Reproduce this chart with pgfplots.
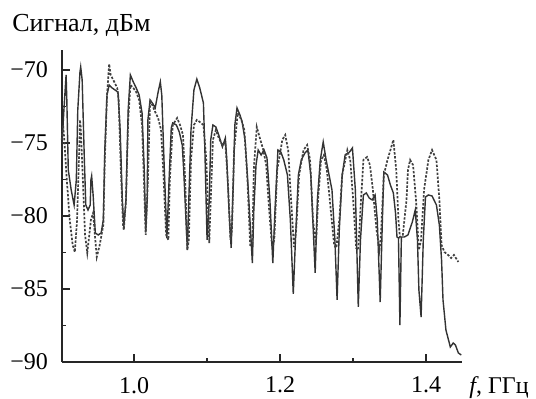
\documentclass[border=0pt]{standalone}
\usepackage{fontspec}
\setmainfont{Liberation Serif}
\usepackage{pgfplots}
\pgfplotsset{compat=1.18}
\begin{document}
\begin{tikzpicture}
\path[use as bounding box] (0,0) rectangle (268pt,199.5pt);
\begin{axis}[
  at={(31pt,18.5pt)}, anchor=south west,
  width=200pt, height=156pt, scale only axis,
  xmin=0.9014, xmax=1.449, ymin=-90, ymax=-68.63,
  axis x line*=bottom, axis y line*=left,
  axis line style={line width=0.9pt, black!85},
  tick align=inside,
  major tick length=3.8pt, minor tick length=2.2pt,
  tick style={line width=0.8pt, black!85},
  xtick={1.0,1.2,1.4}, xticklabels={1.0,1.2,1.4},
  minor xtick={1.1,1.3},
  ytick={-90,-85,-80,-75,-70},
  yticklabels={−90,−85,−80,−75,−70},
  minor ytick={-87.5,-82.5,-77.5,-72.5},
  ticklabel style={font=\fontsize{12}{14}\selectfont},
  xticklabel style={yshift=-4pt},
  yticklabel style={xshift=-3.5pt},
  clip=false,
]
% solid curve
\addplot[line width=0.7pt, black!80] coordinates {
(0.901,-75.48) (0.904,-72.74) (0.907,-70.34) (0.908,-72.05) (0.910,-76.85) (0.914,-78.22) (0.918,-79.25) (0.921,-77.53) (0.923,-72.74) (0.926,-70.14) (0.927,-69.79) (0.929,-70.68) (0.932,-76.16) (0.934,-79.25) (0.937,-79.59) (0.940,-79.25) (0.941,-77.53) (0.942,-77.26) (0.944,-78.56) (0.947,-81.16) (0.951,-81.30) (0.955,-81.16) (0.958,-80.27) (0.960,-75.48) (0.963,-71.71) (0.966,-71.03) (0.970,-71.23) (0.974,-71.37) (0.978,-71.51) (0.981,-74.11) (0.984,-78.90) (0.986,-80.75) (0.989,-78.90) (0.992,-72.74) (0.995,-70.34) (0.999,-70.82) (1.003,-71.23) (1.007,-71.71) (1.011,-72.95) (1.014,-76.85) (1.016,-81.10) (1.018,-78.90) (1.019,-73.42) (1.022,-72.05) (1.026,-72.33) (1.029,-72.60) (1.033,-71.51) (1.036,-70.82) (1.038,-71.71) (1.041,-76.16) (1.045,-81.51) (1.048,-77.53) (1.051,-73.97) (1.053,-73.63) (1.058,-73.77) (1.062,-74.25) (1.066,-75.14) (1.068,-76.85) (1.073,-82.33) (1.075,-78.90) (1.078,-74.11) (1.082,-71.37) (1.086,-70.62) (1.090,-71.23) (1.095,-72.26) (1.097,-75.48) (1.100,-81.64) (1.103,-78.90) (1.105,-74.79) (1.108,-73.77) (1.112,-73.90) (1.116,-74.45) (1.121,-75.27) (1.125,-74.66) (1.127,-76.16) (1.130,-79.59) (1.133,-82.19) (1.136,-77.53) (1.138,-73.77) (1.141,-72.60) (1.145,-73.08) (1.148,-73.56) (1.152,-74.79) (1.156,-77.88) (1.162,-83.22) (1.164,-79.59) (1.167,-76.51) (1.170,-75.48) (1.174,-75.82) (1.178,-75.48) (1.182,-76.03) (1.186,-78.90) (1.190,-83.22) (1.193,-79.59) (1.197,-75.48) (1.201,-75.62) (1.205,-76.16) (1.210,-77.19) (1.214,-80.27) (1.218,-85.34) (1.221,-81.64) (1.225,-77.19) (1.229,-76.16) (1.234,-75.68) (1.238,-75.48) (1.242,-77.19) (1.248,-83.90) (1.251,-78.90) (1.255,-76.16) (1.259,-74.93) (1.263,-76.16) (1.267,-77.19) (1.271,-78.22) (1.275,-81.64) (1.278,-85.75) (1.281,-80.96) (1.285,-77.19) (1.289,-75.82) (1.295,-75.62) (1.299,-75.34) (1.303,-78.22) (1.307,-86.23) (1.310,-81.64) (1.314,-78.56) (1.318,-78.42) (1.322,-78.77) (1.326,-78.90) (1.330,-78.56) (1.333,-80.27) (1.337,-85.89) (1.340,-80.27) (1.342,-76.99) (1.347,-77.19) (1.351,-77.88) (1.355,-78.42) (1.358,-79.80) (1.360,-81.44) (1.362,-81.50) (1.364,-87.47) (1.366,-81.44) (1.370,-81.44) (1.375,-81.30) (1.381,-80.41) (1.385,-79.59) (1.388,-81.64) (1.390,-85.07) (1.393,-86.92) (1.396,-81.64) (1.399,-78.70) (1.403,-78.56) (1.408,-78.63) (1.414,-79.25) (1.418,-80.62) (1.421,-83.01) (1.423,-85.75) (1.427,-87.81) (1.433,-88.97) (1.437,-88.70) (1.440,-88.84) (1.444,-89.38) (1.448,-89.52)
};
% dashed curve
\addplot[line width=0.85pt, black!75, dash pattern=on 1.2pt off 0.8pt] coordinates {
(0.901,-74.79) (0.903,-73.77) (0.905,-75.14) (0.908,-77.53) (0.912,-80.27) (0.916,-81.99) (0.919,-82.47) (0.922,-80.27) (0.925,-75.48) (0.926,-73.42) (0.927,-73.90) (0.930,-77.53) (0.933,-81.30) (0.936,-82.53) (0.938,-81.64) (0.941,-80.27) (0.944,-79.79) (0.947,-81.64) (0.949,-82.81) (0.953,-81.99) (0.958,-80.62) (0.960,-76.16) (0.963,-71.71) (0.966,-69.59) (0.968,-70.34) (0.973,-70.82) (0.977,-71.23) (0.979,-72.05) (0.982,-76.85) (0.985,-80.62) (0.986,-80.96) (0.989,-78.90) (0.992,-73.42) (0.995,-71.03) (0.999,-71.23) (1.003,-71.51) (1.007,-72.05) (1.011,-73.77) (1.014,-78.22) (1.016,-81.30) (1.019,-77.53) (1.022,-72.05) (1.025,-72.40) (1.029,-72.88) (1.033,-73.29) (1.037,-74.11) (1.040,-76.85) (1.044,-81.30) (1.047,-81.64) (1.049,-77.53) (1.053,-73.77) (1.059,-73.29) (1.063,-73.77) (1.067,-74.45) (1.070,-77.53) (1.073,-82.33) (1.075,-81.64) (1.078,-76.16) (1.082,-73.77) (1.086,-73.42) (1.090,-73.56) (1.095,-73.77) (1.099,-76.16) (1.103,-81.85) (1.105,-78.90) (1.108,-74.79) (1.112,-74.11) (1.116,-74.66) (1.121,-75.14) (1.125,-74.93) (1.129,-78.22) (1.132,-81.64) (1.134,-80.96) (1.137,-75.48) (1.142,-72.95) (1.147,-73.42) (1.151,-74.11) (1.155,-77.19) (1.159,-81.99) (1.162,-81.99) (1.164,-76.85) (1.168,-73.90) (1.173,-74.79) (1.177,-75.48) (1.181,-76.51) (1.185,-79.59) (1.189,-82.12) (1.192,-81.64) (1.196,-76.85) (1.203,-74.79) (1.207,-74.45) (1.211,-75.48) (1.215,-78.90) (1.219,-82.12) (1.222,-80.96) (1.226,-77.19) (1.232,-75.48) (1.237,-75.14) (1.241,-76.16) (1.245,-80.27) (1.249,-81.99) (1.252,-78.90) (1.256,-76.16) (1.260,-75.82) (1.264,-76.85) (1.268,-78.90) (1.274,-81.99) (1.277,-82.19) (1.281,-80.27) (1.285,-77.19) (1.292,-75.48) (1.296,-76.16) (1.300,-78.90) (1.304,-82.19) (1.307,-82.33) (1.310,-79.59) (1.314,-76.16) (1.319,-75.96) (1.323,-76.51) (1.327,-78.22) (1.332,-80.96) (1.336,-82.33) (1.338,-81.30) (1.342,-77.19) (1.347,-76.16) (1.351,-75.48) (1.355,-74.79) (1.359,-76.85) (1.362,-80.27) (1.364,-81.44) (1.368,-81.30) (1.373,-78.90) (1.375,-76.85) (1.378,-76.16) (1.382,-76.51) (1.386,-78.90) (1.390,-82.33) (1.393,-81.64) (1.397,-78.22) (1.403,-76.16) (1.408,-75.48) (1.414,-76.16) (1.418,-78.90) (1.421,-81.99) (1.425,-82.47) (1.430,-82.67) (1.434,-82.88) (1.438,-82.67) (1.444,-83.15)
};
\end{axis}
\node[anchor=base west, inner sep=0pt, font=\fontsize{13}{15}\selectfont] at (6pt,183.6pt) {Сигнал, дБм};
\node[anchor=base west, inner sep=0pt, font=\fontsize{12}{14}\selectfont] at (234.5pt,2.5pt) {\textit{f}, ГГц};
\end{tikzpicture}
\end{document}
